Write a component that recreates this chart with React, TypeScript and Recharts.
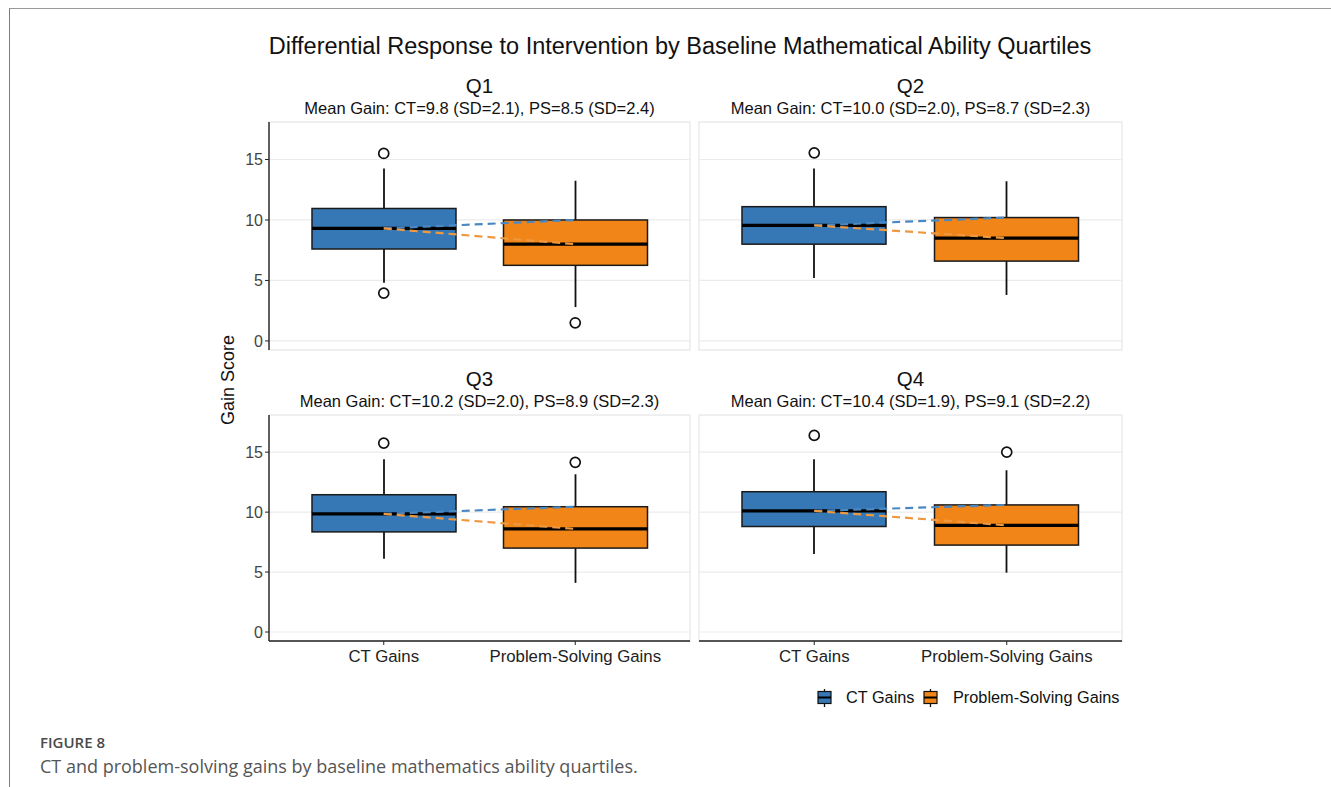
import React from 'react';
import { ComposedChart, Bar, Line, XAxis, YAxis, CartesianGrid } from 'recharts';

const quartiles = ['Q1', 'Q2', 'Q3', 'Q4'];
const groups = ['CT Gains', 'Problem-Solving Gains'];
const yTicks = [0, 5, 10, 15];

const ctMean = [9.8, 10.0, 10.2, 10.4];
const ctSd = [2.1, 2.0, 2.0, 1.9];
const psMean = [8.5, 8.7, 8.9, 9.1];
const psSd = [2.4, 2.3, 2.3, 2.2];

// box plot stats
const ctLow = [4.8, 5.2, 6.1, 6.5];
const ctQ1 = [7.6, 8.0, 8.35, 8.8];
const ctMedian = [9.3, 9.55, 9.85, 10.1];
const ctQ3 = [10.95, 11.1, 11.45, 11.7];
const ctHigh = [14.25, 14.25, 14.4, 14.4];
const ctOutliers = [[15.5, 3.95], [15.55], [15.75], [16.4]];

const psLow = [2.8, 3.8, 4.1, 4.95];
const psQ1 = [6.25, 6.6, 7.0, 7.25];
const psMedian = [8.0, 8.5, 8.6, 8.9];
const psQ3 = [10.0, 10.2, 10.45, 10.6];
const psHigh = [13.25, 13.2, 13.15, 13.5];
const psOutliers = [[1.5], [], [14.15], [15.0]];

const BLUE = '#3677b5';
const ORANGE = '#f28517';
const FONT = '"Liberation Sans", Arial, sans-serif';

const buildRows = (i: number) => [
  {
    group: groups[0],
    low: ctLow[i], q1: ctQ1[i], median: ctMedian[i], q3: ctQ3[i], high: ctHigh[i],
    out1: ctOutliers[i][0] ?? null, out2: ctOutliers[i][1] ?? null,
    blueLink: ctMedian[i], orangeLink: ctMedian[i], fill: BLUE,
  },
  {
    group: groups[1],
    low: psLow[i], q1: psQ1[i], median: psMedian[i], q3: psQ3[i], high: psHigh[i],
    out1: psOutliers[i][0] ?? null, out2: psOutliers[i][1] ?? null,
    blueLink: psQ3[i], orangeLink: psMedian[i], fill: ORANGE,
  },
];

const BoxShape = (props: any) => {
  const { x, y, width, height, payload } = props;
  const top = Math.min(y, y + height);
  const h = Math.abs(height);
  const k = h / (payload.q3 - payload.q1);
  const py = (v: number) => top + (payload.q3 - v) * k;
  const cx = x + width / 2;
  return (
    <g>
      <line x1={cx} x2={cx} y1={py(payload.high)} y2={top} stroke="#111" strokeWidth={1.8} />
      <line x1={cx} x2={cx} y1={top + h} y2={py(payload.low)} stroke="#111" strokeWidth={1.8} />
      <rect x={x} y={top} width={width} height={h} fill={payload.fill} stroke="#1a1a1a" strokeWidth={1.5} />
      <line x1={x} x2={x + width} y1={py(payload.median)} y2={py(payload.median)} stroke="#000" strokeWidth={3.2} />
    </g>
  );
};

const OutlierDot = (props: any) => {
  const { cx, cy, index, dataKey } = props;
  if (cy == null || Number.isNaN(cy)) return <g key={`${dataKey}-${index}`} />;
  return <circle key={`${dataKey}-${index}`} cx={cx} cy={cy} r={5} fill="#fff" stroke="#111" strokeWidth={1.7} />;
};

type PanelProps = { index: number; left: number; top: number; width: number; height: number; showY: boolean; showX: boolean };

const Panel = ({ index, left, top, width, height, showY, showX }: PanelProps) => {
  const rows = buildRows(index);
  return (
    <div style={{ position: 'absolute', left, top }}>
      <ComposedChart width={width} height={height} data={rows} margin={{ top: 0, right: 0, bottom: 0, left: 0 }}>
        <CartesianGrid vertical={false} stroke="#ebebeb" strokeWidth={1.2} />
        <XAxis
          dataKey="group"
          hide={!showX}
          height={30}
          interval={0}
          padding={{ left: 19, right: 19 }}
          axisLine={{ stroke: '#222', strokeWidth: 1.4 }}
          tickLine={{ stroke: '#222' }}
          tickSize={4}
          tickMargin={5}
          tick={{ fill: '#222', fontSize: 16.8, fontFamily: FONT }}
        />
        <YAxis
          hide={!showY}
          width={39}
          domain={[-0.75, 18.1]}
          ticks={yTicks}
          allowDataOverflow
          axisLine={{ stroke: '#222', strokeWidth: 1.4 }}
          tickLine={{ stroke: '#222' }}
          tickSize={4}
          tick={{ fill: '#444', fontSize: 16, fontFamily: FONT }}
        />
        <Bar dataKey={(d: any) => [d.q1, d.q3]} barSize={144} shape={BoxShape} isAnimationActive={false} />
        <Line dataKey="blueLink" stroke="#4a88c4" strokeWidth={2.2} strokeDasharray="8 5" dot={false} activeDot={false} isAnimationActive={false} />
        <Line dataKey="orangeLink" stroke="#ee9840" strokeWidth={2.2} strokeDasharray="8 5" dot={false} activeDot={false} isAnimationActive={false} />
        <Line dataKey="out1" stroke="none" dot={OutlierDot} activeDot={false} isAnimationActive={false} />
        <Line dataKey="out2" stroke="none" dot={OutlierDot} activeDot={false} isAnimationActive={false} />
      </ComposedChart>
    </div>
  );
};

const panels = [
  { index: 0, left: 230, top: 122, width: 460, height: 228, showY: true, showX: false, plot: [269, 122, 421, 228] },
  { index: 1, left: 699, top: 122, width: 423, height: 228, showY: false, showX: false, plot: [699, 122, 423, 228] },
  { index: 2, left: 230, top: 415, width: 460, height: 256, showY: true, showX: true, plot: [269, 415, 421, 226] },
  { index: 3, left: 699, top: 415, width: 423, height: 256, showY: false, showX: true, plot: [699, 415, 423, 226] },
];

const LegendIcon = ({ x, fill }: { x: number; fill: string }) => (
  <g>
    <line x1={x + 6.5} x2={x + 6.5} y1={689} y2={707} stroke="#111" strokeWidth={1.3} />
    <rect x={x} y={691.5} width={13} height={12} fill={fill} stroke="#111" strokeWidth={1.2} />
    <line x1={x} x2={x + 13} y1={697.5} y2={697.5} stroke="#000" strokeWidth={2} />
  </g>
);

export default function App() {
  return (
    <div style={{ position: 'absolute', left: 0, top: 0, width: 1331, height: 787, background: '#fff', overflow: 'hidden', fontFamily: FONT }}>
      <div style={{ position: 'absolute', left: 9, top: 8, width: 1340, height: 800, borderLeft: '1.5px solid #7d7d7d', borderTop: '1px solid #9a9a9a' }} />
      <svg width={1331} height={787} style={{ position: 'absolute', left: 0, top: 0 }}>
        {panels.map((p) => (
          <rect key={p.index} x={p.plot[0]} y={p.plot[1]} width={p.plot[2]} height={p.plot[3]} fill="none" stroke="#e6e6e6" strokeWidth={1.2} />
        ))}
        <text x={680} y={54} textAnchor="middle" fontSize={23.5} fill="#111" fontFamily={FONT}>
          Differential Response to Intervention by Baseline Mathematical Ability Quartiles
        </text>
        {panels.map((p) => {
          const cx = p.plot[0] + p.plot[2] / 2;
          const base = p.plot[1];
          return (
            <g key={`t${p.index}`} fontFamily={FONT} fill="#111" textAnchor="middle">
              <text x={cx} y={base - 29} fontSize={20.5}>{quartiles[p.index]}</text>
              <text x={cx} y={base - 8} fontSize={16.5}>
                {`Mean Gain: CT=${ctMean[p.index].toFixed(1)} (SD=${ctSd[p.index].toFixed(1)}), PS=${psMean[p.index].toFixed(1)} (SD=${psSd[p.index].toFixed(1)})`}
              </text>
            </g>
          );
        })}
        <text x={234} y={380} transform="rotate(-90 234 380)" textAnchor="middle" fontSize={18} fill="#111" fontFamily={FONT}>
          Gain Score
        </text>
        <LegendIcon x={818} fill={BLUE} />
        <text x={846} y={703} fontSize={16.3} fill="#111" fontFamily={FONT}>{groups[0]}</text>
        <LegendIcon x={924} fill={ORANGE} />
        <text x={953} y={703} fontSize={16.3} fill="#111" fontFamily={FONT}>{groups[1]}</text>
        <text x={40} y={748} fontSize={15} fontWeight={600} fill="#4a4a4a" fontFamily='"Open Sans", sans-serif'>FIGURE 8</text>
        <text x={40} y={773} fontSize={18} fill="#555" fontFamily='"Open Sans", sans-serif'>
          CT and problem-solving gains by baseline mathematics ability quartiles.
        </text>
      </svg>
      {panels.map((p) => (
        <Panel key={p.index} index={p.index} left={p.left} top={p.top} width={p.width} height={p.height} showY={p.showY} showX={p.showX} />
      ))}
    </div>
  );
}
